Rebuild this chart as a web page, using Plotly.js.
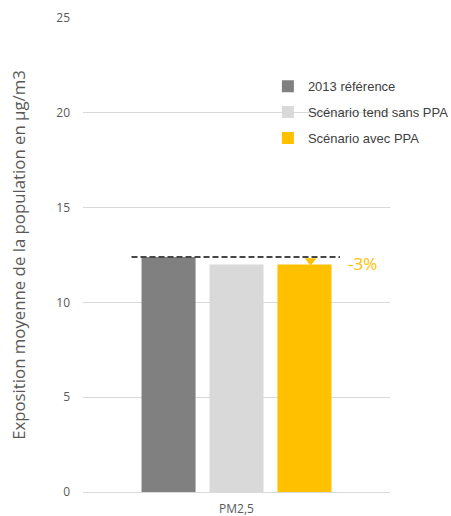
<!DOCTYPE html>
<html>
<head>
<meta charset="utf-8">
<script src="https://cdn.plot.ly/plotly-3.0.1.min.js"></script>
<style>html,body{margin:0;padding:0;background:#fff}#chart{width:451px;height:516px}</style>
</head>
<body>
<div id="chart"></div>
<script>
const categories = ["PM2,5"];
const seriesNames = ["2013 référence", "Scénario tend sans PPA", "Scénario avec PPA"];
const ref2013 = [12.4];
const tendSansPPA = [12.0];
const avecPPA = [12.0];
const yTicks = [0, 5, 10, 15, 20, 25];

const barColors = ["#808080", "#D9D9D9", "#FFC000"];
const bargap = 0.336;
const slot = (1 - bargap) / 3;

const seriesValues = [ref2013, tendSansPPA, avecPPA];
const traces = seriesValues.map((vals, i) => ({
  type: "bar",
  x: categories,
  y: vals,
  name: seriesNames[i],
  legendgroup: "g" + i,
  marker: {color: barColors[i], line: {width: 0}},
  hoverinfo: "y"
}));

const pct = Math.round((avecPPA[0] - ref2013[0]) / ref2013[0] * 100);
const midY = (avecPPA[0] + ref2013[0]) / 2;

const layout = {
  width: 451, height: 516,
  margin: {l: 83, r: 61, t: 18, b: 24, autoexpand: false},
  paper_bgcolor: "#fff", plot_bgcolor: "#fff",
  barmode: "group",
  bargap: bargap,
  bargroupgap: 0.205,
  font: {family: "Open Sans, sans-serif", color: "#595959", size: 12},
  showlegend: true,
  legend: {
    xref: "container", yref: "container",
    x: 0.594, y: 0.862, xanchor: "left", yanchor: "top",
    font: {family: "Liberation Sans, sans-serif", size: 13, color: "#404040"},
    tracegroupgap: 6,
    bgcolor: "rgba(0,0,0,0)"
  },
  xaxis: {
    type: "category",
    range: [-0.5, 0.5],
    showgrid: false, showline: false, zeroline: false,
    ticks: "", ticklabelstandoff: 8,
    tickfont: {size: 12, color: "#595959"},
    fixedrange: true
  },
  yaxis: {
    range: [0, 25],
    tickvals: yTicks,
    ticktext: yTicks.map(String),
    showgrid: true, gridcolor: "#D9D9D9", gridwidth: 1,
    zeroline: true, zerolinecolor: "#D9D9D9", zerolinewidth: 1,
    showline: false, ticks: "",
    ticklabelstandoff: 12,
    tickfont: {size: 12, color: "#595959"},
    title: {text: "Exposition moyenne de la population en µg/m3", font: {size: 16.8, color: "#595959"}, standoff: 26},
    fixedrange: true
  },
  shapes: [{
    type: "line", xref: "x", yref: "y",
    x0: -1.5 * slot - 0.01, x1: 1.5 * slot + 0.005,
    y0: ref2013[0], y1: ref2013[0],
    line: {color: "#474747", width: 2, dash: "6px,3px"}
  }],
  annotations: [{
    xref: "paper", yref: "y",
    x: 0.858, y: avecPPA[0] + 0.05,
    xanchor: "left", yanchor: "middle",
    text: pct + "%", showarrow: false,
    font: {size: 17, color: "#FFC000", family: "Open Sans, sans-serif"}
  }]
};

traces.push({
  type: "scatter", mode: "markers",
  x: [slot + 0.02], y: [midY],
  xaxis: "x2", yaxis: "y",
  marker: {symbol: "triangle-down", size: 10, color: "#FFC000"},
  showlegend: false, hoverinfo: "skip"
});
layout.xaxis2 = {overlaying: "x", range: [-0.5, 0.5], visible: false, fixedrange: true};

Plotly.newPlot("chart", traces, layout, {displayModeBar: false, staticPlot: true});
</script>
</body>
</html>
